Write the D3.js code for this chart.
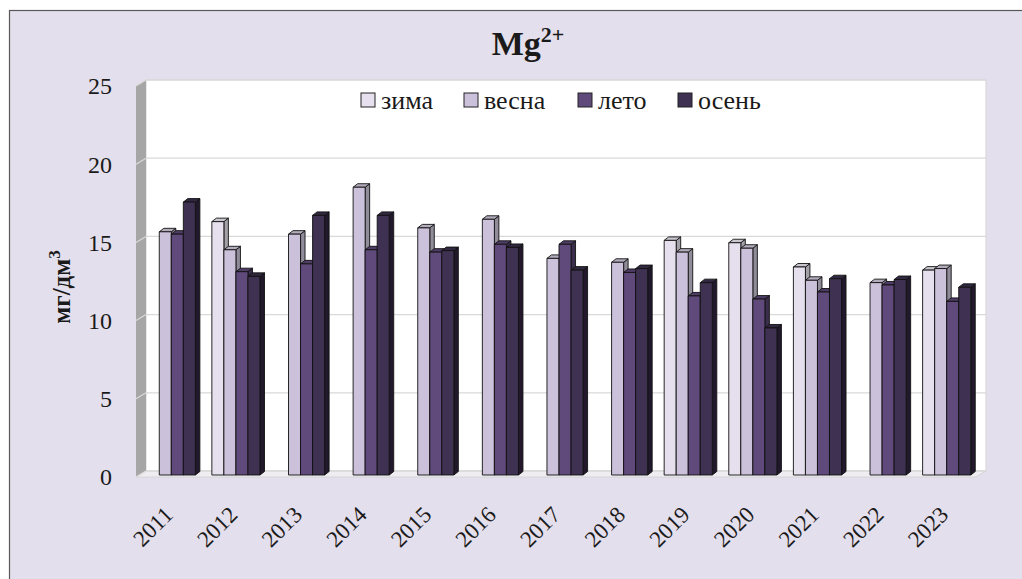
<!DOCTYPE html>
<html>
<head>
<meta charset="utf-8">
<script src="https://cdn.jsdelivr.net/npm/d3@7"></script>
<style>
  body { margin: 0; background: #fff; }
  svg { display: block; }
</style>
</head>
<body>
<svg id="chart" width="1022" height="579"></svg>
<script>
const years = ["2011", "2012", "2013", "2014", "2015", "2016", "2017", "2018", "2019", "2020", "2021", "2022", "2023"];
const seasons = ["зима", "весна", "лето", "осень"];
const zima = [null, 16.2, null, null, null, null, null, null, 15.0, 14.85, 13.3, null, 13.1];
const vesna = [15.55, 14.4, 15.4, 18.4, 15.8, 16.35, 13.85, 13.6, 14.25, 14.5, 12.45, 12.3, 13.2];
const leto = [15.4, 13.0, 13.5, 14.4, 14.25, 14.75, 14.75, 12.95, 11.45, 11.25, 11.7, 12.15, 11.1];
const osen = [17.45, 12.7, 16.6, 16.6, 14.35, 14.55, 13.1, 13.2, 12.3, 9.4, 12.55, 12.5, 12.0];
const yTicks = [0, 5, 10, 15, 20, 25];

const series = [zima, vesna, leto, osen];
const faceColors = [
  { front: "#e6e0ee", top: "#c9c6cf", side: "#a3a0a8" },
  { front: "#ccc1da", top: "#b3acbd", side: "#918c99" },
  { front: "#604a7b", top: "#4e3c66", side: "#3b2d4c" },
  { front: "#3f3151", top: "#332841", side: "#21192b" }
];
const FONT = "'Liberation Serif', 'Times New Roman', serif";

const svg = d3.select("#chart");

// frame (right and bottom edges run off the picture)
svg.append("rect")
  .attr("x", 9.5).attr("y", 10.5)
  .attr("width", 1030).attr("height", 590)
  .attr("fill", "#e4dfec")
  .attr("stroke", "#595959")
  .attr("stroke-width", 1.2);

// 3D offsets
const wall = { dx: 10, dy: -6 };
const barOff = { dx: 3, dy: -2 };
const depth = { dx: 4.5, dy: -3.5 };

const x0 = d3.scaleBand().domain(years).range([136, 976]);
const gw = x0.bandwidth() * 0.745;
const x1 = d3.scaleBand().domain(seasons)
  .range([(x0.bandwidth() - gw) / 2, (x0.bandwidth() + gw) / 2]);
const y = d3.scaleLinear().domain([0, 25]).range([477, 86]);

const xl = x0.range()[0];
const xr = x0.range()[1];

// back wall
svg.append("rect")
  .attr("x", xl + wall.dx)
  .attr("y", y(25) + wall.dy)
  .attr("width", xr - xl)
  .attr("height", y(0) - y(25))
  .attr("fill", "#fff")
  .attr("stroke", "#d4d4d4");

// left wall
svg.append("polygon")
  .attr("points", [[xl, y(25)], [xl + wall.dx, y(25) + wall.dy], [xl + wall.dx, y(0) + wall.dy], [xl, y(0)]].join(" "))
  .attr("fill", "#a6a6a6");

// floor
svg.append("polygon")
  .attr("points", [[xl, y(0)], [xl + wall.dx, y(0) + wall.dy], [xr + wall.dx, y(0) + wall.dy], [xr, y(0)]].join(" "))
  .attr("fill", "#efedf2")
  .attr("stroke", "#d4d4d4");

// gridlines
yTicks.forEach((t) => {
  svg.append("line")
    .attr("x1", xl + wall.dx).attr("x2", xr + wall.dx)
    .attr("y1", y(t) + wall.dy).attr("y2", y(t) + wall.dy)
    .attr("stroke", "#d9d9d9").attr("stroke-width", 1.2);
  svg.append("line")
    .attr("x1", xl).attr("x2", xl + wall.dx)
    .attr("y1", y(t)).attr("y2", y(t) + wall.dy)
    .attr("stroke", "#d9d9d9").attr("stroke-width", 1.2);
});

// y tick labels
svg.append("g")
  .selectAll("text")
  .data(yTicks)
  .join("text")
  .attr("x", 112)
  .attr("y", (d) => y(d))
  .attr("dy", "0.35em")
  .attr("text-anchor", "end")
  .attr("font-family", FONT)
  .attr("font-size", 24)
  .attr("fill", "#1a1a1a")
  .text((d) => d);

// y title
svg.append("text")
  .attr("transform", "translate(70,287) rotate(-90)")
  .attr("text-anchor", "middle")
  .attr("font-family", FONT)
  .attr("font-size", 25)
  .attr("font-weight", "bold")
  .attr("fill", "#1a1a1a")
  .text("мг/дм")
  .append("tspan")
  .attr("dy", -10)
  .attr("font-size", 17)
  .text("3");

// bars
const bars = [];
years.forEach((yr, i) => {
  seasons.forEach((s, j) => {
    const v = series[j][i];
    if (v == null) return;
    bars.push({ yr, s, j, v });
  });
});

const gBars = svg.append("g");
bars.forEach((d) => {
  const bx = x0(d.yr) + x1(d.s) + barOff.dx;
  const bw = x1.bandwidth();
  const top = y(d.v) + barOff.dy;
  const bot = y(0) + barOff.dy;
  const c = faceColors[d.j];
  const g = gBars.append("g").attr("stroke", "#111").attr("stroke-width", 0.9).attr("stroke-linejoin", "round");
  g.append("polygon")
    .attr("points", [[bx + bw, top], [bx + bw + depth.dx, top + depth.dy], [bx + bw + depth.dx, bot + depth.dy], [bx + bw, bot]].join(" "))
    .attr("fill", c.side);
  g.append("polygon")
    .attr("points", [[bx, top], [bx + depth.dx, top + depth.dy], [bx + bw + depth.dx, top + depth.dy], [bx + bw, top]].join(" "))
    .attr("fill", c.top);
  g.append("rect")
    .attr("x", bx).attr("y", top)
    .attr("width", bw).attr("height", bot - top)
    .attr("fill", c.front);
});

// x labels
svg.append("g")
  .selectAll("text")
  .data(years)
  .join("text")
  .attr("transform", (d) => `translate(${x0(d) + x0.bandwidth() / 2 + 6},516) rotate(-45)`)
  .attr("text-anchor", "end")
  .attr("font-family", FONT)
  .attr("font-size", 23)
  .attr("fill", "#1a1a1a")
  .text((d) => d);

// title
const title = svg.append("text")
  .attr("x", 528)
  .attr("y", 55)
  .attr("text-anchor", "middle")
  .attr("font-family", FONT)
  .attr("font-size", 34)
  .attr("font-weight", "bold")
  .attr("fill", "#1a1a1a")
  .text("Mg");
title.append("tspan")
  .attr("dy", -13)
  .attr("font-size", 22)
  .text("2+");

// legend
const legendX = [361, 464, 578, 678];
const legend = svg.append("g");
seasons.forEach((s, j) => {
  legend.append("rect")
    .attr("x", legendX[j]).attr("y", 93)
    .attr("width", 14).attr("height", 14)
    .attr("fill", faceColors[j].front)
    .attr("stroke", "#222").attr("stroke-width", 1);
  legend.append("text")
    .attr("x", legendX[j] + 20)
    .attr("y", 100)
    .attr("dy", "0.35em")
    .attr("font-family", FONT)
    .attr("font-size", 26)
    .attr("fill", "#1a1a1a")
    .text(s);
});
</script>
</body>
</html>
